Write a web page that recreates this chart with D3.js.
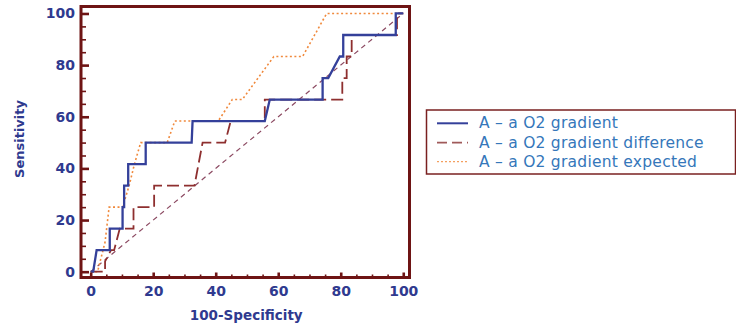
<!DOCTYPE html>
<html><head><meta charset="utf-8">
<script src="https://cdn.jsdelivr.net/npm/d3@7"></script>
<style>body{margin:0;background:#fff}svg{display:block}</style>
</head><body>
<svg id="c" width="736" height="326"></svg>
<script>
// ---- data ----
const gradient = [[0,0],[0.8,0],[1.9,8.33],[6.1,8.33],[6.1,16.67],[10.2,16.67],[10.2,25],[10.7,25],[10.7,33.33],[12,33.33],[12,41.67],[17.6,41.67],[17.6,50],[32.3,50],[32.6,58.33],[55.7,58.33],[57.3,66.67],[74.2,66.67],[74.2,75],[76,75],[79.7,83.33],[80.8,83.33],[80.8,91.67],[97.6,91.67],[97.6,100],[100,100]];
const difference = [[0,0],[4.6,0],[4.6,4],[6.5,8.33],[7.5,8.33],[9.3,16.67],[13.7,16.67],[13.7,25],[20.3,25],[20.3,33.33],[33.2,33.33],[35.8,50],[43,50],[44.8,58.33],[55.7,58.33],[55.7,66.67],[80.5,66.67],[80.5,75],[81.9,75],[81.9,83.33],[83.5,83.33],[83.5,91.67],[98,91.67],[98,100],[100,100]];
const expected = [[0,0],[2.2,0],[4.6,11.5],[5.9,25],[10.2,25],[12.3,33.33],[14,41.67],[16,50],[24.5,50],[26.9,58.33],[40.8,58.33],[45.3,66.67],[48.5,66.67],[58.6,83.33],[67.8,83.33],[75.5,100],[100,100]];
const diagonal = [[0,0],[100,100]];
const majorTicks = [0,20,40,60,80,100];
const minorTicks = [5,10,15,25,30,35,45,50,55,65,70,75,85,90,95];
const seriesNames = ["A \u2013 a O2 gradient","A \u2013 a O2 gradient difference","A \u2013 a O2 gradient expected"];
const xTitle = "100-Specificity", yTitle = "Sensitivity";

// ---- drawing ----
const svg = d3.select("#c");
const L=81, R=409.5, T=6.5, B=277.5;
const x = d3.scaleLinear().domain([-3.1,102]).range([L,R]);
const y = d3.scaleLinear().domain([-2.25,102.7]).range([B,T]);
const axisCol = "#6e1414", labCol = "#2f3a8f";
const line = d3.line().x(d=>x(d[0])).y(d=>y(d[1]));

svg.append("path").datum(diagonal).attr("d",line).attr("fill","none")
  .attr("stroke","#8c4a62").attr("stroke-width",1.2).attr("stroke-dasharray","5,4");
svg.append("path").datum(expected).attr("d",line).attr("fill","none")
  .attr("stroke","#f0893c").attr("stroke-width",1.6).attr("stroke-dasharray","2,2.5");
svg.append("path").datum(difference).attr("d",line).attr("fill","none")
  .attr("stroke","#8e2f2f").attr("stroke-width",1.8).attr("stroke-dasharray","12,5");
svg.append("path").datum(gradient).attr("d",line).attr("fill","none")
  .attr("stroke","#34409a").attr("stroke-width",2.3);

// axes
function styleAxis(g, w){
  g.select(".domain").remove();
  g.selectAll(".tick line").attr("stroke",axisCol).attr("stroke-width",w);
  g.selectAll("text").attr("fill",labCol).style("font-family","DejaVu Sans")
    .style("font-size","14px").style("font-weight","bold");
}
const gyMin = svg.append("g").attr("transform",`translate(${L},0)`)
  .call(d3.axisLeft(y).tickValues(minorTicks).tickSize(-5).tickFormat(""));
styleAxis(gyMin,1.6);
const gy = svg.append("g").attr("transform",`translate(${L},0)`)
  .call(d3.axisLeft(y).tickValues(majorTicks).tickSize(-8).tickPadding(6));
styleAxis(gy,2.6);
const gxMin = svg.append("g").attr("transform",`translate(0,${B})`)
  .call(d3.axisBottom(x).tickValues(minorTicks).tickSize(-3).tickFormat(""));
styleAxis(gxMin,1.6);
const gx = svg.append("g").attr("transform",`translate(0,${B})`)
  .call(d3.axisBottom(x).tickValues(majorTicks).tickSize(-5).tickPadding(9));
styleAxis(gx,2.6);

// frame
svg.append("rect").attr("x",L).attr("y",T).attr("width",R-L).attr("height",B-T)
  .attr("fill","none").attr("stroke",axisCol).attr("stroke-width",3);

// titles
svg.append("text").attr("x",(L+R)/2+1).attr("y",320).attr("text-anchor","middle")
  .attr("fill",labCol).style("font-family","DejaVu Sans").style("font-size","13.5px")
  .style("font-weight","bold").text(xTitle);
svg.append("text").attr("transform",`translate(24,${(T+B)/2-3}) rotate(-90)`).attr("text-anchor","middle")
  .attr("fill",labCol).style("font-family","DejaVu Sans").style("font-size","13px")
  .style("font-weight","bold").text(yTitle);

// legend
const lg = svg.append("g");
lg.append("rect").attr("x",426.5).attr("y",110).attr("width",309).attr("height",64)
  .attr("fill","#fff").attr("stroke","#7a2020").attr("stroke-width",1.5);
const legStyles = [
  {c:"#34409a", w:2, d:null},
  {c:"#a05a5a", w:1.8, d:"10,5"},
  {c:"#f4a060", w:1.2, d:"2,2"}
];
const legY = [123.3,142.7,161.7];
seriesNames.forEach((n,i)=>{
  const s = legStyles[i];
  const l = lg.append("line").attr("x1",437).attr("x2",468).attr("y1",legY[i]).attr("y2",legY[i])
    .attr("stroke",s.c).attr("stroke-width",s.w);
  if(s.d) l.attr("stroke-dasharray",s.d);
  lg.append("text").attr("x",479).attr("y",legY[i]+5).attr("fill","#3577ba")
    .style("font-family","DejaVu Sans").style("font-size","15.5px")
    .style("letter-spacing","0.25px").text(n);
});
</script>
</body></html>
